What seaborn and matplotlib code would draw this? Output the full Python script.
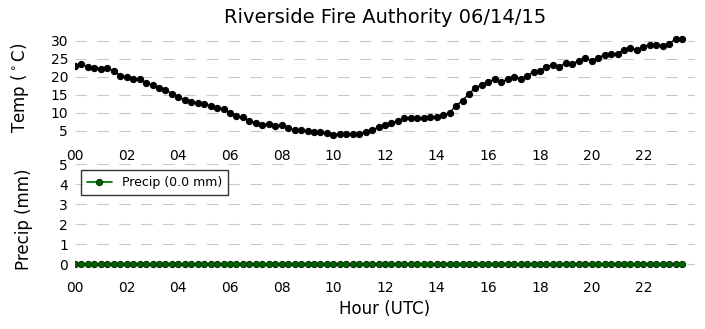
import numpy as np
import pandas as pd
import matplotlib
matplotlib.use("Agg")
import matplotlib.pyplot as plt
import matplotlib.dates as mdates
import seaborn as sns

# ---- data ----
times = pd.date_range("2015-06-14 00:00", "2015-06-14 23:30", freq="15min")
temp_c = [
    23.1, 23.5, 22.8, 22.6, 22.3, 22.4, 21.7, 20.3, 20.1, 19.5,
    19.5, 18.3, 17.7, 17.0, 16.4, 15.3, 14.4, 13.6, 13.0, 12.7,
    12.5, 11.9, 11.3, 11.1, 9.9, 9.1, 8.8, 7.7, 7.2, 6.6,
    6.9, 6.4, 6.5, 5.8, 5.2, 5.2, 4.9, 4.6, 4.6, 4.4,
    3.9, 4.2, 4.2, 4.2, 4.2, 4.6, 5.2, 6.0, 6.5, 7.1,
    7.8, 8.4, 8.4, 8.4, 8.4, 8.9, 8.9, 9.4, 10.0, 12.0,
    13.4, 15.3, 17.0, 17.8, 18.7, 19.3, 18.7, 19.3, 20.1, 19.5,
    20.3, 21.4, 21.7, 22.8, 23.4, 22.8, 24.0, 23.7, 24.5, 25.3,
    24.5, 25.3, 26.2, 26.5, 26.5, 27.6, 28.1, 27.6, 28.4, 29.0,
    29.0, 28.7, 29.2, 30.6, 30.6,
]
precip_mm = [0.0] * len(temp_c)  # every reading is 0.0 mm
total_precip = 0.0

title = "Riverside Fire Authority 06/14/15"
hour_ticks = pd.date_range("2015-06-14 00:00", "2015-06-14 22:00", freq="2h")
temp_ticks = [5, 10, 15, 20, 25, 30]
precip_ticks = [0, 1, 2, 3, 4, 5]

df = pd.DataFrame({"time": times, "temp": temp_c, "precip": precip_mm})

# ---- style ----
sns.set_style("white")
plt.rcParams["font.family"] = ["DejaVu Sans"]
plt.rcParams.update({"text.color": "black", "axes.labelcolor": "black",
                     "xtick.color": "black", "ytick.color": "black"})

W, H = 705, 329
fig = plt.figure(figsize=(W / 100, H / 100), dpi=100)
ax1 = fig.add_axes([75 / W, (H - 142) / H, 620 / W, 108 / H])
ax2 = fig.add_axes([75 / W, (H - 274) / H, 620 / W, 110 / H])

sns.lineplot(data=df, x="time", y="temp", ax=ax1, color="k", lw=1.0,
             marker="o", markersize=4.5, markeredgecolor="k",
             markerfacecolor="k")
sns.lineplot(data=df, x="time", y="precip", ax=ax2, color="#008000", lw=1.3,
             marker="o", markersize=4.5, markeredgecolor="#003000",
             markerfacecolor="#006400",
             label=f"Precip ({total_precip:.1f} mm)")

xmin = pd.Timestamp("2015-06-14 00:00")
xmax = pd.Timestamp("2015-06-15 00:00")
for ax in (ax1, ax2):
    ax.set_xlim(xmin, xmax)
    ax.set_xticks(hour_ticks)
    ax.xaxis.set_major_formatter(mdates.DateFormatter("%H"))
    for s in ax.spines.values():
        s.set_visible(False)
    ax.tick_params(axis="both", length=0, labelsize=10, pad=5,
                   labelcolor="black")
    ax.yaxis.grid(True, color="#c8c8c8", lw=0.75, linestyle=(0, (11, 10)))
    ax.xaxis.grid(False)
    ax.set_facecolor("white")

ax1.set_ylim(1.85, 31.95)
ax1.set_yticks(temp_ticks)
ax1.set_xlabel("")
ax1.set_ylabel(r"Temp ($^\circ$C)", fontsize=12)
ax1.yaxis.set_label_coords(-0.0715, 0.5)
ax1.set_title(title, fontsize=14, pad=8, color="black")

ax2.set_ylim(-0.5, 5)
ax2.set_yticks(precip_ticks)
ax2.set_ylabel("Precip (mm)", fontsize=12)
ax2.yaxis.set_label_coords(-0.068, 0.5)
ax2.set_xlabel("Hour (UTC)", fontsize=12)

leg = ax2.legend(loc="upper left", fontsize=9, frameon=True, fancybox=False,
                 borderaxespad=0.5, handlelength=2.0, borderpad=0.45)
leg.get_frame().set_edgecolor("k")
leg.get_frame().set_linewidth(1.0)
for t in leg.get_texts():
    t.set_color("black")

fig.savefig("out.png", dpi=100, facecolor="white")
